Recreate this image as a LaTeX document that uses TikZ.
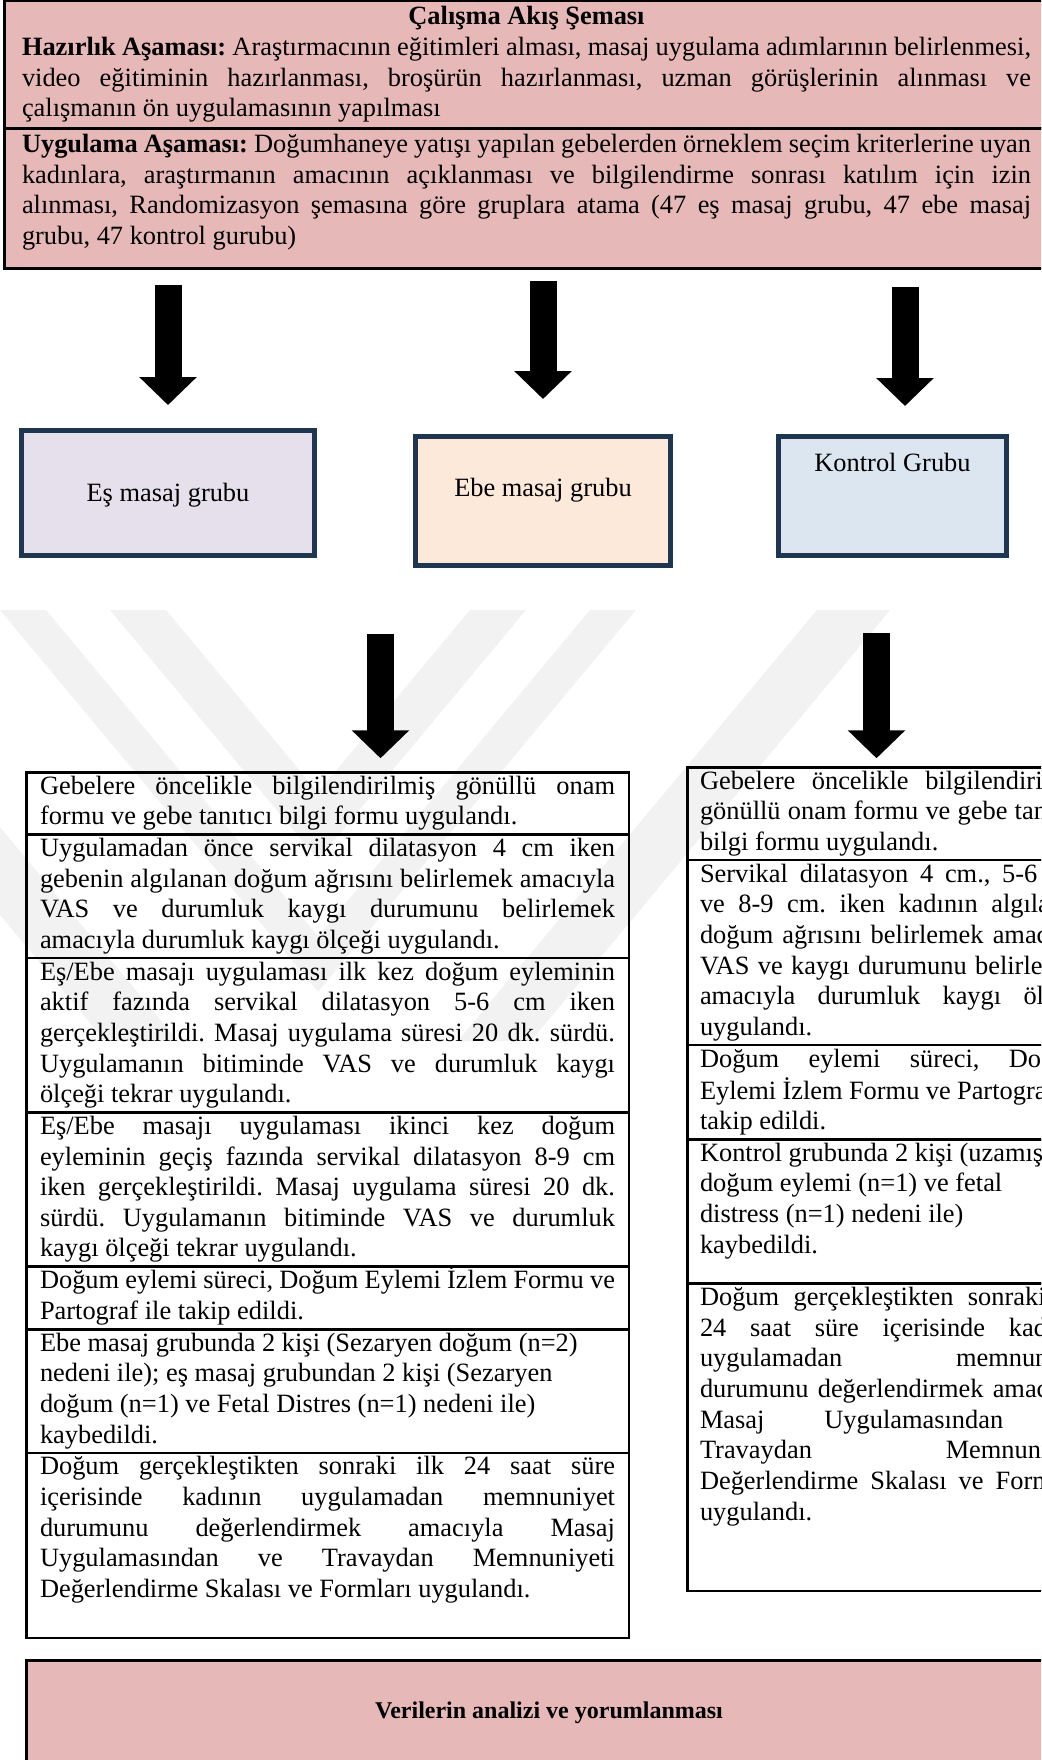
\documentclass[tikz,border=0pt]{standalone}
\usepackage{fontspec}
\setmainfont{Liberation Serif}
\usetikzlibrary{arrows.meta}
\definecolor{pembe}{HTML}{E6B8B7}
\definecolor{lila}{HTML}{E5E0EC}
\definecolor{seftali}{HTML}{FDE9D9}
\definecolor{mavi}{HTML}{DCE6F1}
\definecolor{lacivert}{HTML}{1F3651}
\setlength{\parindent}{0pt}
\frenchspacing
\hyphenpenalty=10000
\exhyphenpenalty=10000
\tolerance=10000
\hbadness=10000
\begin{document}
            \begin{tikzpicture}[x=1pt,y=-1pt,
                every node/.style={font=\fontsize{26.4}{30.65}\selectfont},
                pembekutu/.style={draw=black,line width=3pt,fill=pembe,anchor=north west,outer sep=0pt,
                    text width=1009pt,align=justify,inner xsep=18pt,inner ysep=2.5pt,
                    execute at begin node=\strut,execute at end node=\strut},
                grupkutu/.style={draw=lacivert,line width=5pt,inner sep=0pt},
                satir/.style={draw=black,line width=2.5pt,anchor=north west,outer sep=0pt,align=justify,
                    inner ysep=0.5pt,execute at begin node=\strut,execute at end node=\strut},
                solsatir/.style={satir,text width=575pt,inner xsep=13.75pt},
                sagsatir/.style={satir,text width=388pt,inner xsep=12.75pt},
                kalinok/.style={line width=27pt,-{Triangle[width=56pt,length=28pt]}},
                filigran/.style={fill=black!5}]

                \useasboundingbox (0,0) rectangle (1041,1760);
                \clip (0,0) rectangle (1041,1760);

                \begin{scope}
                    \clip (0,610) rectangle (1041,1040);
                    \fill[filigran] (110,610) -- (166,610) -- (318,792.4) -- (470,610) -- (526,610) -- (318,859.6) -- cycle;
                    \fill[filigran] (0,610) -- (46,610) -- (318,936.4) -- (590,610) -- (636,610) -- (318,991.6) -- cycle;
                    \fill[filigran] (-254,610) -- (-181,610) -- (318,1208.8) -- (817,610) -- (890,610) -- (318,1296.4) -- cycle;
                \end{scope}

                \node[pembekutu] (hazirlik) at (4,1) {{\centering\textbf{Çalışma Akış Şeması}\par}\textbf{Hazırlık Aşaması:} Araştırmacının eğitimleri alması, masaj uygulama adımlarının belirlenmesi,\linebreak video eğitiminin hazırlanması, broşürün hazırlanması, uzman görüşlerinin alınması ve\linebreak çalışmanın ön uygulamasının yapılması};
                \node[pembekutu] (uygulama) at (hazirlik.south west) {\textbf{Uygulama Aşaması:} Doğumhaneye yatışı yapılan gebelerden örneklem seçim kriterlerine uyan\linebreak kadınlara, araştırmanın amacının açıklanması ve bilgilendirme sonrası katılım için izin\linebreak alınması, Randomizasyon şemasına göre gruplara atama (47 eş masaj grubu, 47 ebe masaj\linebreak grubu, 47 kontrol gurubu)\\[-18pt]};

                \node[grupkutu,fill=lila,minimum width=293pt,text height=71pt,text depth=54pt] (es) at (168,493) {Eş masaj grubu};
                \node[grupkutu,fill=seftali,minimum width=255pt,text height=60pt,text depth=69pt] (ebe) at (543,501) {Ebe masaj grubu};
                \node[grupkutu,fill=mavi,minimum width=228pt,text height=35pt,text depth=84pt] (kontrol) at (892.5,496) {Kontrol Grubu};

                \coordinate (kok) at ([xshift=12.5pt]kontrol.north);
                \draw[kalinok,shorten <=16pt,shorten >=23pt] (es.north |- uygulama.south) -- (es.north);
                \draw[kalinok,shorten <=12pt,shorten >=35pt] (ebe.north |- uygulama.south) -- (ebe.north);
                \draw[kalinok,shorten <=18pt,shorten >=28pt] (kok |- uygulama.south) -- (kok);

                \node[solsatir] (r1) at (26.25,772.25) {Gebelere öncelikle bilgilendirilmiş gönüllü onam\linebreak formu ve gebe tanıtıcı bilgi formu uygulandı.};
                \node[solsatir] (r2) at (r1.south west) {Uygulamadan önce servikal dilatasyon 4 cm iken\linebreak gebenin algılanan doğum ağrısını belirlemek amacıyla\linebreak VAS ve durumluk kaygı durumunu belirlemek\linebreak amacıyla durumluk kaygı ölçeği uygulandı.};
                \node[solsatir] (r3) at (r2.south west) {Eş/Ebe masajı uygulaması ilk kez doğum eyleminin\linebreak aktif fazında servikal dilatasyon 5-6 cm iken\linebreak gerçekleştirildi. Masaj uygulama süresi 20 dk. sürdü.\linebreak Uygulamanın bitiminde VAS ve durumluk kaygı\linebreak ölçeği tekrar uygulandı.};
                \node[solsatir] (r4) at (r3.south west) {Eş/Ebe masajı uygulaması ikinci kez doğum\linebreak eyleminin geçiş fazında servikal dilatasyon 8-9 cm\linebreak iken gerçekleştirildi. Masaj uygulama süresi 20 dk.\linebreak sürdü. Uygulamanın bitiminde VAS ve durumluk\linebreak kaygı ölçeği tekrar uygulandı.};
                \node[solsatir] (r5) at (r4.south west) {Doğum eylemi süreci, Doğum Eylemi İzlem Formu ve\linebreak Partograf ile takip edildi.};
                \node[solsatir] (r6) at (r5.south west) {Ebe masaj grubunda 2 kişi (Sezaryen doğum (n=2)\\ nedeni ile); eş masaj grubundan 2 kişi (Sezaryen\\ doğum (n=1) ve Fetal Distres (n=1) nedeni ile)\\ kaybedildi.};
                \node[solsatir] (r7) at (r6.south west) {Doğum gerçekleştikten sonraki ilk 24 saat süre\linebreak içerisinde kadının uygulamadan memnuniyet\linebreak durumunu değerlendirmek amacıyla Masaj\linebreak Uygulamasından ve Travaydan Memnuniyeti\linebreak Değerlendirme Skalası ve Formları uygulandı.\\};

                \node[sagsatir] (q1) at (687.25,767.25) {Gebelere öncelikle bilgilendirilmiş\linebreak gönüllü onam formu ve gebe tanıtıcı\linebreak bilgi formu uygulandı.};
                \node[sagsatir] (q2) at (q1.south west) {Servikal dilatasyon 4 cm., 5-6 cm.\linebreak ve 8-9 cm. iken kadının algılanan\linebreak doğum ağrısını belirlemek amacıyla\linebreak VAS ve kaygı durumunu belirlemek\linebreak amacıyla durumluk kaygı ölçeği\linebreak uygulandı.};
                \node[sagsatir] (q3) at (q2.south west) {Doğum eylemi süreci, Doğum\linebreak Eylemi İzlem Formu ve Partograf ile\linebreak takip edildi.};
                \node[sagsatir] (q4) at (q3.south west) {Kontrol grubunda 2 kişi (uzamış\\ doğum eylemi (n=1) ve fetal\\ distress (n=1) nedeni ile)\\ kaybedildi.\\[-10pt]};
                \node[sagsatir] (q5) at (q4.south west) {Doğum gerçekleştikten sonraki ilk\linebreak 24 saat süre içerisinde kadının\linebreak uygulamadan memnuniyet\linebreak durumunu değerlendirmek amacıyla\linebreak Masaj Uygulamasından ve\linebreak Travaydan Memnuniyeti\linebreak Değerlendirme Skalası ve Formları\linebreak uygulandı.\\ \mbox{}\\};

                \coordinate (ayrim1) at (380.5,634);
                \coordinate (ayrim2) at (876.5,633);
                \draw[kalinok,shorten >=14pt] (ayrim1) -- (ayrim1 |- r1.north);
                \draw[kalinok,shorten >=9pt] (ayrim2) -- (ayrim2 |- q1.north);

                \node[draw=black,line width=3pt,fill=pembe,anchor=north west,outer sep=0pt,inner sep=0pt,minimum width=1045pt,text height=58pt,text depth=100pt,font=\fontsize{24}{28}\selectfont\bfseries] (analiz) at (26.5,1660.5) {Verilerin analizi ve yorumlanması};
            \end{tikzpicture}
\end{document}
